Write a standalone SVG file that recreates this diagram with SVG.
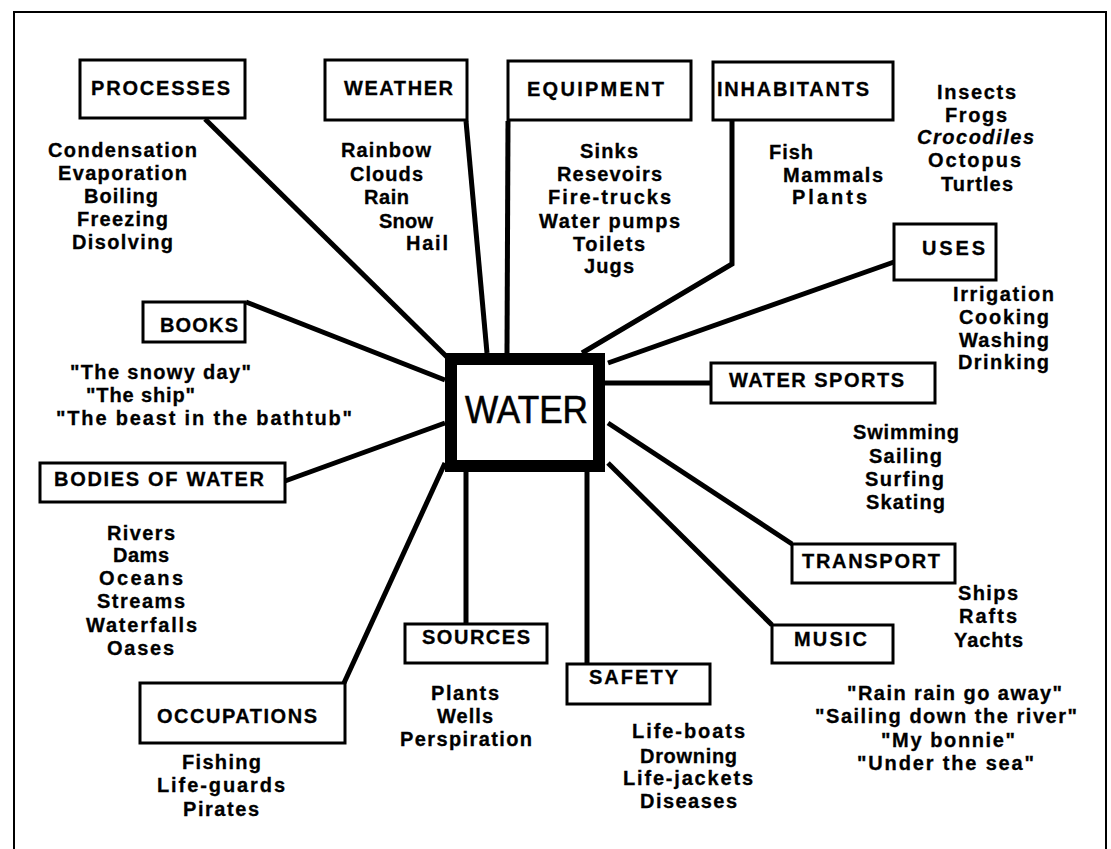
<svg xmlns="http://www.w3.org/2000/svg" width="1111" height="849" viewBox="0 0 1111 849">
<style>
.frame{fill:none;stroke:#000;stroke-width:2}
.box{fill:#fff;stroke:#000;stroke-width:3}
.conn{fill:none;stroke:#000;stroke-width:5;stroke-linejoin:miter}
text{font-family:"Liberation Sans",Arial,Helvetica,sans-serif;fill:#000}
.lbl{font-size:20px;font-weight:bold;stroke:#000;stroke-width:0.3}
.it{font-size:20px;font-weight:bold;stroke:#000;stroke-width:0.3}
.ital{font-style:italic}
</style>
<rect width="1111" height="849" fill="#fff"/>
<g id="frame">
<polyline class="frame" points="14,849 14,12 1106,12 1106,849"/>
</g>
<g id="connectors">
<line class="conn" x1="205" y1="119" x2="448" y2="358"/>
<line class="conn" x1="466" y1="121" x2="487" y2="353"/>
<line class="conn" x1="508" y1="121" x2="507" y2="353"/>
<polyline class="conn" points="732,121 732,264 582,353"/>
<line class="conn" x1="894" y1="262" x2="608" y2="363"/>
<line class="conn" x1="605" y1="383" x2="711" y2="383"/>
<line class="conn" x1="608" y1="423" x2="792" y2="544"/>
<line class="conn" x1="608" y1="463" x2="772" y2="625"/>
<line class="conn" x1="587" y1="470" x2="587" y2="664"/>
<line class="conn" x1="466" y1="470" x2="466" y2="624"/>
<line class="conn" x1="445" y1="463" x2="344" y2="683"/>
<line class="conn" x1="246" y1="302" x2="445" y2="380"/>
<line class="conn" x1="285" y1="481" x2="445" y2="423"/>
</g>
<g id="water">
<rect x="451" y="359" width="148" height="107" fill="#fff" stroke="#000" stroke-width="12"/>
<text x="465" y="423" font-size="38" stroke="#000" stroke-width="0.6" textLength="123" lengthAdjust="spacingAndGlyphs">WATER</text>
</g>
<g id="processes">
<rect class="box" x="80" y="60" width="165" height="58"/>
<text class="lbl" x="91" y="95" textLength="139">PROCESSES</text>
<text class="it" x="48" y="157" textLength="149">Condensation</text>
<text class="it" x="58" y="180" textLength="129">Evaporation</text>
<text class="it" x="84" y="203" textLength="74">Boiling</text>
<text class="it" x="77" y="226" textLength="91">Freezing</text>
<text class="it" x="72" y="249" textLength="101">Disolving</text>
</g>
<g id="weather">
<rect class="box" x="325" y="60" width="142" height="60"/>
<text class="lbl" x="344" y="95" textLength="109">WEATHER</text>
<text class="it" x="341" y="157" textLength="90">Rainbow</text>
<text class="it" x="350" y="181" textLength="73">Clouds</text>
<text class="it" x="364" y="204" textLength="45">Rain</text>
<text class="it" x="379" y="228" textLength="54">Snow</text>
<text class="it" x="406" y="250" textLength="42">Hail</text>
</g>
<g id="equipment">
<rect class="box" x="508" y="61" width="183" height="59"/>
<text class="lbl" x="527" y="96" textLength="137">EQUIPMENT</text>
<text class="it" x="580" y="158" textLength="58">Sinks</text>
<text class="it" x="557" y="181" textLength="105">Resevoirs</text>
<text class="it" x="548" y="204" textLength="123">Fire-trucks</text>
<text class="it" x="539" y="228" textLength="141">Water pumps</text>
<text class="it" x="573" y="251" textLength="72">Toilets</text>
<text class="it" x="584" y="273" textLength="50">Jugs</text>
</g>
<g id="inhabitants">
<rect class="box" x="713" y="62" width="180" height="58"/>
<text class="lbl" x="717" y="96" textLength="152">INHABITANTS</text>
<text class="it" x="769" y="159" textLength="44">Fish</text>
<text class="it" x="783" y="182" textLength="100">Mammals</text>
<text class="it" x="792" y="204" textLength="75">Plants</text>
<text class="it" x="937" y="99" textLength="79">Insects</text>
<text class="it" x="945" y="122" textLength="62">Frogs</text>
<text class="it ital" x="917" y="144" textLength="117">Crocodiles</text>
<text class="it" x="928" y="167" textLength="93">Octopus</text>
<text class="it" x="941" y="191" textLength="72">Turtles</text>
</g>
<g id="uses">
<rect class="box" x="894" y="224" width="102" height="56"/>
<text class="lbl" x="922" y="255" textLength="63">USES</text>
<text class="it" x="953" y="301" textLength="101">Irrigation</text>
<text class="it" x="959" y="324" textLength="90">Cooking</text>
<text class="it" x="959" y="347" textLength="90">Washing</text>
<text class="it" x="958" y="369" textLength="91">Drinking</text>
</g>
<g id="water-sports">
<rect class="box" x="711" y="363" width="224" height="40"/>
<text class="lbl" x="729" y="387" textLength="175">WATER SPORTS</text>
<text class="it" x="853" y="439" textLength="106">Swimming</text>
<text class="it" x="869" y="463" textLength="73">Sailing</text>
<text class="it" x="865" y="486" textLength="79">Surfing</text>
<text class="it" x="866" y="509" textLength="79">Skating</text>
</g>
<g id="transport">
<rect class="box" x="792" y="544" width="163" height="39"/>
<text class="lbl" x="802" y="568" textLength="138">TRANSPORT</text>
<text class="it" x="958" y="600" textLength="60">Ships</text>
<text class="it" x="959" y="623" textLength="58">Rafts</text>
<text class="it" x="954" y="647" textLength="69">Yachts</text>
</g>
<g id="music">
<rect class="box" x="772" y="625" width="121" height="38"/>
<text class="lbl" x="794" y="646" textLength="73">MUSIC</text>
<text class="it" x="847" y="700" textLength="215">"Rain rain go away"</text>
<text class="it" x="815" y="723" textLength="262">"Sailing down the river"</text>
<text class="it" x="881" y="747" textLength="134">"My bonnie"</text>
<text class="it" x="857" y="770" textLength="177">"Under the sea"</text>
</g>
<g id="safety">
<rect class="box" x="567" y="664" width="143" height="40"/>
<text class="lbl" x="589" y="684" textLength="89">SAFETY</text>
<text class="it" x="632" y="738" textLength="113">Life-boats</text>
<text class="it" x="640" y="763" textLength="97">Drowning</text>
<text class="it" x="623" y="785" textLength="130">Life-jackets</text>
<text class="it" x="640" y="808" textLength="97">Diseases</text>
</g>
<g id="sources">
<rect class="box" x="405" y="624" width="142" height="39"/>
<text class="lbl" x="422" y="644" textLength="108">SOURCES</text>
<text class="it" x="431" y="700" textLength="68">Plants</text>
<text class="it" x="437" y="723" textLength="56">Wells</text>
<text class="it" x="400" y="746" textLength="132">Perspiration</text>
</g>
<g id="occupations">
<rect class="box" x="140" y="683" width="205" height="60"/>
<text class="lbl" x="157" y="723" textLength="160">OCCUPATIONS</text>
<text class="it" x="182" y="769" textLength="79">Fishing</text>
<text class="it" x="157" y="792" textLength="128">Life-guards</text>
<text class="it" x="183" y="816" textLength="76">Pirates</text>
</g>
<g id="bodies-of-water">
<rect class="box" x="40" y="463" width="245" height="39"/>
<text class="lbl" x="54" y="486" textLength="210">BODIES OF WATER</text>
<text class="it" x="107" y="540" textLength="68">Rivers</text>
<text class="it" x="113" y="562" textLength="56">Dams</text>
<text class="it" x="99" y="585" textLength="84">Oceans</text>
<text class="it" x="97" y="608" textLength="88">Streams</text>
<text class="it" x="86" y="632" textLength="111">Waterfalls</text>
<text class="it" x="107" y="655" textLength="67">Oases</text>
</g>
<g id="books">
<rect class="box" x="143" y="302" width="102" height="40"/>
<text class="lbl" x="160" y="332" textLength="78">BOOKS</text>
<text class="it" x="70" y="379" textLength="181">"The snowy day"</text>
<text class="it" x="86" y="402" textLength="109">"The ship"</text>
<text class="it" x="56" y="425" textLength="296">"The beast in the bathtub"</text>
</g>
</svg>
